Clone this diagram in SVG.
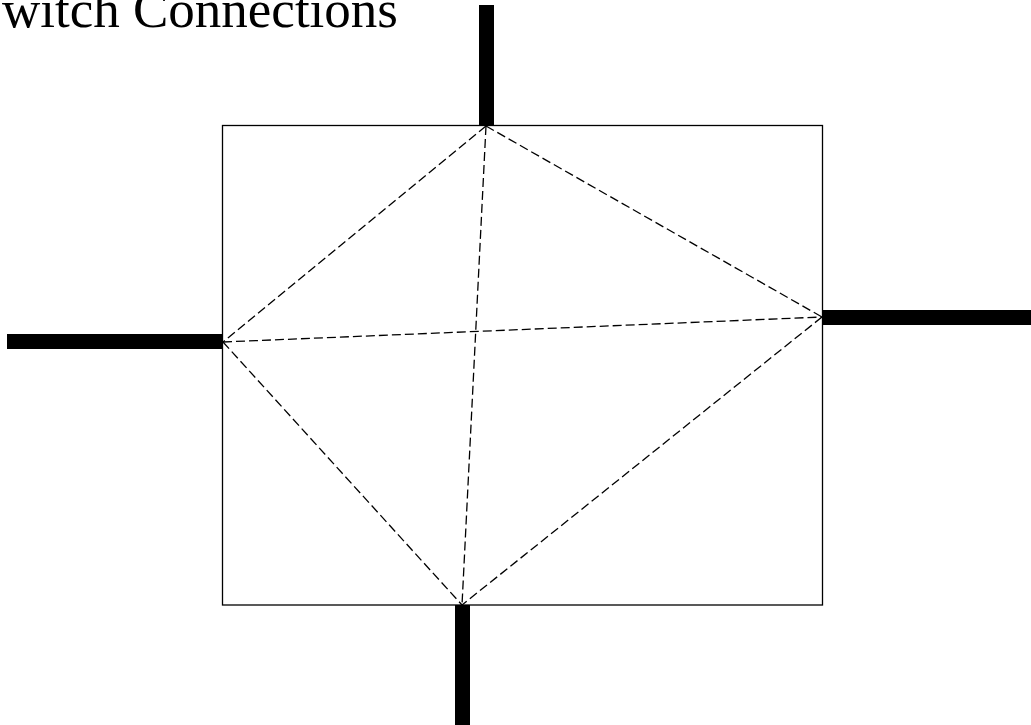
<svg xmlns="http://www.w3.org/2000/svg" width="1031" height="725" viewBox="0 0 1031 725">
<style>
.title{font-family:"Liberation Serif","Times New Roman",serif;font-size:53px;fill:#000}
.box{fill:#fff;stroke:#000;stroke-width:1.3}
.bar{stroke:#000;stroke-width:15;fill:none}
.conn{stroke:#000;stroke-width:1.3;stroke-dasharray:9,4;fill:none}
</style>
<rect width="1031" height="725" fill="#fff"/>
<text class="title" x="2" y="27">witch Connections</text>
<g id="switch">
<rect class="box" x="222.5" y="125.5" width="600" height="479.5"/>
</g>
<g id="port-top"><line class="bar" x1="486.5" y1="5" x2="486.5" y2="126"/></g>
<g id="port-left"><line class="bar" x1="7" y1="341.5" x2="223" y2="341.5"/></g>
<g id="port-right"><line class="bar" x1="822" y1="317.5" x2="1031" y2="317.5"/></g>
<g id="port-bottom"><line class="bar" x1="462.5" y1="605" x2="462.5" y2="725"/></g>
<g id="connectors">
<line class="conn" x1="486" y1="126" x2="223" y2="342"/>
<line class="conn" x1="486" y1="126" x2="822" y2="317"/>
<line class="conn" x1="486" y1="126" x2="462" y2="605"/>
<line class="conn" x1="223" y1="342" x2="822" y2="317"/>
<line class="conn" x1="223" y1="342" x2="462" y2="605"/>
<line class="conn" x1="822" y1="317" x2="462" y2="605"/>
</g>
</svg>
